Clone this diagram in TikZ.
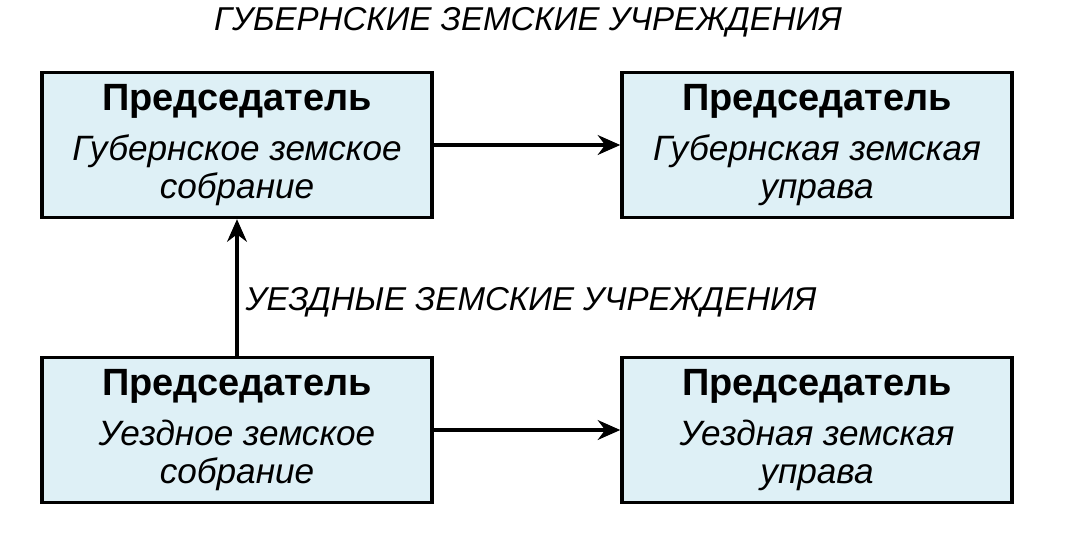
\documentclass[tikz,border=0pt]{standalone}
\usepackage{fontspec}
\setmainfont{Liberation Sans}
\usetikzlibrary{arrows.meta}
\definecolor{boxfill}{RGB}{222,240,246}
\begin{document}
\begin{tikzpicture}[x=0.025cm,y=-0.025cm,
	box/.style={draw,line width=2.4pt,fill=boxfill,minimum width=390*0.025cm,minimum height=145*0.025cm,align=center,font=\fontsize{25}{27}\selectfont},
	arr/.style={-{Stealth[length=16pt,width=14pt]},line width=2.6pt}]
		% Rahmen
		\useasboundingbox (0,0) rectangle (1088,535);
		% Ueberschriften
		\node[font=\fontsize{23.5}{28}\selectfont\itshape] (tg) at (528,22) {ГУБЕРНСКИЕ ЗЕМСКИЕ УЧРЕЖДЕНИЯ};
		\node[font=\fontsize{23.5}{28}\selectfont\itshape] (tu) at (531,302) {УЕЗДНЫЕ ЗЕМСКИЕ УЧРЕЖДЕНИЯ};
		
		% Kaesten
		\node[box] (gs) at (237,145) {{\fontsize{27}{30}\selectfont\bfseries Председатель}\\[8pt]\textit{Губернское земское}\\\textit{собрание}};
		\node[box] (gu) at (817,145) {{\fontsize{27}{30}\selectfont\bfseries Председатель}\\[8pt]\textit{Губернская земская}\\\textit{управа}};
		\node[box] (us) at (237,430) {{\fontsize{27}{30}\selectfont\bfseries Председатель}\\[8pt]\textit{Уездное земское}\\\textit{собрание}};
		\node[box] (uu) at (817,430) {{\fontsize{27}{30}\selectfont\bfseries Председатель}\\[8pt]\textit{Уездная земская}\\\textit{управа}};
		
		% Pfeile
		\draw[arr] (gs) -- (gu);
		\draw[arr] (us) -- (uu);
		\draw[arr] (us) -- (gs);
	\end{tikzpicture}
\end{document}
